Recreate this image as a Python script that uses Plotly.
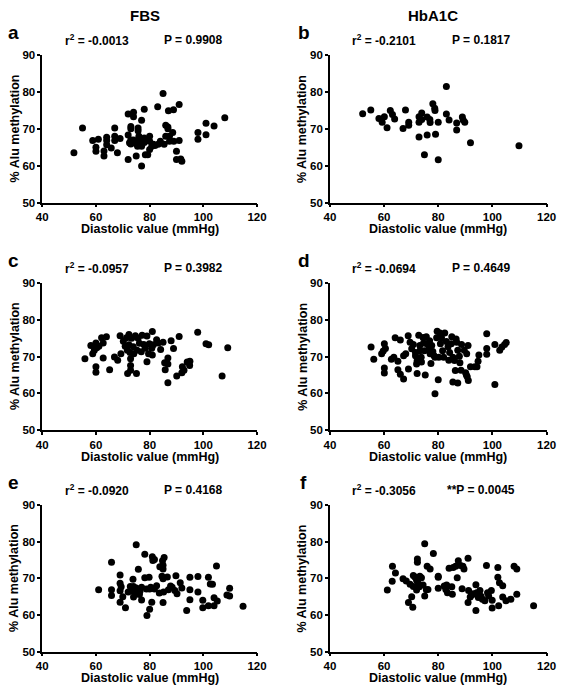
import plotly.graph_objects as go

W, H = 567, 693

# ---------------- data ----------------
col_titles = ["FBS", "HbA1C"]
panel_letters = ["a", "b", "c", "d", "e", "f"]
r2_labels = ["-0.0013", "-0.2101", "-0.0957", "-0.0694", "-0.0920", "-0.3056"]
p_labels = ["P = 0.9908", "P = 0.1817", "P = 0.3982", "P = 0.4649", "P = 0.4168", "**P = 0.0045"]
x_ticks = [40, 60, 80, 100, 120]
y_ticks = [50, 60, 70, 80, 90]

a_x = [51.8, 55, 58.8, 60.9, 60, 60, 63, 63, 64, 64, 64, 65.7, 67, 67, 67, 68, 69,
       72, 72, 72, 74, 74, 73, 73, 73, 73, 74, 75, 75.7, 75.7, 76, 76, 75.5,
       77, 77, 77, 77, 78, 78, 78.4, 79.3, 80, 80, 80, 80.8, 81.4,
       83, 83.2, 84, 85, 85.4, 86, 86, 86.8, 86.8, 87, 87.4, 87.4,
       88.6, 88.9, 89, 90, 90, 91, 91, 91.6, 92, 98, 98, 101, 101, 104, 108,
       72.5, 75, 78, 82]
a_y = [63.5, 70.2, 66.8, 67.2, 65, 63.9, 64, 62.6, 67.7, 66.8, 65.7, 64.8, 70.2, 68, 66.8, 63.5, 67.4,
       74, 68.3, 61.7, 74.5, 73.3, 70.6, 70, 67, 65.9, 67, 62.6, 70.2, 69.5, 68, 66.7, 65.3,
       72.3, 59.9, 66.7, 65.3, 75.3, 67.5, 63, 63, 64.4, 68, 66.6, 65.3, 65.8,
       76, 65.8, 66.6, 79.6, 65.8, 68, 71, 70.5, 70, 74.9, 68, 66.6,
       69, 75.2, 66.6, 63.9, 61.7, 66.8, 76.6, 61.8, 61.2, 69, 67.2, 71.5, 68.4, 70.8, 73,
       66.2, 66, 66.3, 65.5]

b_x = [52.1, 55.1, 58.1, 59.3, 60.1, 61.1, 62.3, 63.1, 63.9, 67, 67.9, 69.1, 69.1,
       72.9, 72.9, 72.9, 73.9, 73.9, 74.9, 75.9, 75.9, 76.9, 77, 78, 78.7, 78.8, 79,
       80, 80, 83, 83, 84, 86.8, 86.8, 88.9, 89.2, 89.8, 91.9, 109.8]
b_y = [74.1, 75.1, 72.8, 71.8, 73.3, 70.3, 75, 73.9, 72.7, 70.1, 75.1, 71.8, 71,
       67.8, 71.8, 73.3, 74.3, 72.5, 63, 73.2, 68.3, 72.5, 71.7, 76.8, 75.6, 75, 68.5,
       61.6, 71.8, 81.5, 74, 72.4, 71.6, 69.7, 73.2, 72.4, 71.8, 66.2, 65.4]

c_x = [55.9, 58.1, 58.8, 59.4, 60, 60.3, 61.1, 60, 60, 62.1, 62.7, 62.7, 63.9, 65.1, 66.9, 68.1,
       69, 69.3, 70.2, 70.9, 71.4, 71.7, 71.8, 72.3, 72.3, 72.7, 72.9, 72.9, 72.9, 73.3,
       73.9, 74.1, 74.7, 75.1, 75.3, 75.7, 76.2, 76.9, 77.2, 77.8, 78.4, 79, 79, 79.6, 79.9,
       80.8, 81, 81, 81.4, 82.6, 83.2, 84.1, 85, 85.6, 85.8, 86.8, 86.8, 86.8, 88, 88.9, 91,
       90.1, 92, 92.2, 92.8, 94, 94.9, 95, 97.9, 101, 102, 107, 109.1]
c_y = [69.4, 73, 70.8, 71.7, 73.7, 72.4, 72.8, 67.2, 65.7, 75.1, 73.7, 69.6, 75.4, 66.4, 69.9, 69,
       75.7, 70.8, 74.2, 72.8, 75.1, 71.7, 65.4, 76, 73.2, 71.1, 69.4, 67.6, 66.3, 75,
       72.7, 70.8, 75.7, 65.4, 71.7, 75, 73.6, 71.3, 75.8, 73.3, 72.3, 75.6, 68.6, 70.8, 73.5,
       72.3, 76.8, 70.4, 73.2, 74.6, 73.7, 71.9, 73.9, 68.3, 66.4, 69.6, 68, 62.9, 74.3, 72.2, 75.5,
       64.7, 65.6, 67.2, 66.3, 68.5, 67.6, 68.7, 76.6, 73.5, 73.2, 64.7, 72.4]

d_x = [55.2, 56.2, 59.1, 59.7, 60.1, 60.5, 60.1, 60.1, 62.7, 63.6, 64.1, 65.1, 65.1, 66, 66,
       67.2, 67.2, 68, 68.9, 69, 69.6, 70.2, 70.8, 71.6, 71.6, 72, 72.2, 72.2, 72.8, 73.2,
       73.2, 73.7, 73.8, 74.4, 74.6, 74.9, 75.2, 75.6, 75.8, 76.4, 76.8, 77, 77.3, 77.6, 78,
       78.4, 78.8, 78.8, 79.4, 79.6, 80, 80.2, 80.6, 80.8, 81.2, 81.6, 82, 82.4, 83, 83.6,
       83.9, 84.2, 84.8, 85, 85.4, 85.4, 86, 86.3, 86.6, 86.8, 87.2, 87.2, 87.8, 88, 88.4,
       88.6, 89.6, 90.1, 90.4, 90.5, 90.7, 91, 91.1, 91.9, 93.5, 94.3, 95, 94.7, 97.9, 97.9,
       97.9, 100.9, 100.9, 102.7, 103.5, 104.5, 105.1]
d_y = [72.6, 69.3, 70.8, 71.5, 73.5, 72.2, 66.9, 65.5, 69.3, 69.8, 75.1, 68.7, 66.4, 74.5, 65.2,
       63.9, 70.2, 70.8, 75.7, 66.6, 73.9, 72.1, 73.3, 71.1, 70.2, 68, 68.8, 65.4, 75.8, 73,
       71.6, 69.8, 68.5, 75.2, 73.7, 71.6, 65, 75.4, 73.5, 71.9, 74.3, 70.8, 68.1, 73, 71.4,
       70.3, 69.8, 59.9, 75.1, 76.9, 63.7, 69.8, 76.4, 73.5, 75.1, 71.6, 69.8, 76.4, 74.1, 72.7,
       69, 71.1, 73.5, 75.4, 69.8, 63.1, 68.9, 66.2, 74.8, 73.9, 71.7, 62.8, 70.1, 68.3, 66.3,
       73.3, 71.7, 65.6, 65, 70.8, 64.5, 73, 63.5, 67.2, 67.2, 67.2, 70.4, 68.7, 76.2, 72.2,
       70.6, 73.3, 62.4, 71.7, 72.6, 73.3, 73.8]

e_x = [61, 65.8, 65.8, 65.8, 69, 69, 69, 69, 69.4, 70, 71, 72, 72.8, 73.8, 74, 74, 74,
       75, 75, 75.2, 75.8, 76.2, 76.4, 77, 77, 78.2, 78.2, 78.8, 79, 79.8, 80, 80, 80.4,
       80.8, 81, 81.2, 81.8, 81.8, 82.6, 83.6, 83.8, 84.6, 84.8, 85, 85, 85, 85, 85.2, 85.4,
       86.6, 87, 87.8, 88.4, 89.4, 89.8, 90.2, 91.4, 92, 93.8, 95, 95, 95, 98, 98, 99.8, 99.8,
       101.9, 101.9, 102.6, 103.4, 104, 104, 104.9, 105.2, 108.8, 109.8, 109.8, 114.8]
e_y = [66.9, 66.9, 65.3, 74.4, 70.9, 68.7, 66.6, 63.5, 67.7, 65, 62, 66.3, 67.8, 69.8, 67.8, 66.5, 64.9,
       79.2, 67.4, 65.8, 72.5, 65.6, 66.5, 67.6, 64.1, 76.6, 70.2, 67.1, 59.9, 70.3, 61.6, 67.1, 67.6,
       63.5, 75.9, 74.9, 75.2, 67.1, 68, 66, 73.2, 70.6, 74.8, 73.6, 72.6, 69.9, 63.4, 66.3, 75.7,
       70.4, 66.9, 67.9, 67.6, 66.7, 70.7, 65.8, 68.8, 67.4, 61.2, 70.3, 66.9, 64.2, 70.5, 66.3, 64, 62,
       70.3, 62.5, 68.5, 68.4, 62.5, 64.7, 73.4, 63.8, 65.5, 67.3, 65.2, 62.4]

f_x = [61.2, 63, 63.1, 64.2, 67, 68.2, 69, 69.6, 70.2, 70.6, 70.8, 70.8, 71.4, 72, 72, 72.3, 72.3,
       72.6, 73, 73.2, 73.8, 74.4, 75, 75, 75.6, 75.9, 76.2, 77, 78.2, 80, 80, 80, 82.2, 82.8,
       83.1, 83.4, 84, 85, 85.2, 85.5, 86.4, 87, 87.4, 88.2, 88.8, 89.1, 89.5, 91, 91, 91.2,
       91.8, 92.4, 93, 93.9, 93.9, 94.2, 94.8, 95.4, 95.8, 96.3, 97.2, 97.8, 98.2, 98.6, 99.6,
       99.9, 99.9, 102, 102, 102.3, 102.6, 103.8, 103.8, 105, 106.8, 108, 109, 109, 115.2]
f_y = [66.8, 69.2, 73.3, 71.5, 69.9, 69.3, 63.4, 68.4, 65, 62.1, 70.8, 67.8, 70.4, 69.5, 66.8, 75.3, 74.4,
       68.6, 67.7, 70.6, 70.2, 68.2, 65.2, 79.5, 66.9, 73.3, 67, 72.6, 76.8, 70.6, 70.3, 67.3, 67.9, 67,
       68.2, 66.1, 72.8, 67.7, 65.7, 73, 73.3, 70.2, 74.8, 73.5, 67.2, 73.3, 72.6, 75.5, 63.4, 66.7,
       64.9, 65.5, 65.8, 68.3, 61.2, 66.1, 64.8, 66.7, 65.1, 64.3, 63.9, 73.5, 66.1, 65.2, 66.7,
       64, 61.9, 73, 70.3, 62.5, 68.8, 68, 64.9, 63.9, 64.3, 73.3, 72.6, 65.7, 62.5]

panels_x = [a_x, b_x, c_x, d_x, e_x, f_x]
panels_y = [a_y, b_y, c_y, d_y, e_y, f_y]

# ---------------- layout geometry (pixels) ----------------
FONT = "Liberation Sans, Arial, sans-serif"
col_px = [(37.3, 258.3), (333.3, 556.3)]
row_px = [(50.0, 200.0), (282.0, 431.5), (508.0, 657.0)]


def px(x, y):
    return x / W, 1 - y / H


fig = go.Figure()
layout = dict(
    width=W, height=H,
    margin=dict(l=0, r=0, t=0, b=0),
    paper_bgcolor="white", plot_bgcolor="white",
    showlegend=False,
    font=dict(family=FONT, color="black"),
)
annotations = []

for i in range(6):
    r, c = divmod(i, 2)
    n = i + 1
    xa = "xaxis" if n == 1 else f"xaxis{n}"
    ya = "yaxis" if n == 1 else f"yaxis{n}"
    xref = "x" if n == 1 else f"x{n}"
    yref = "y" if n == 1 else f"y{n}"
    x0, x1 = col_px[c]
    y0, y1 = row_px[r]
    common = dict(showline=True, linecolor="black", linewidth=1.5, ticks="outside",
                  ticklen=3, tickwidth=1.5, tickcolor="black", showgrid=False,
                  zeroline=False, ticklabeloverflow="allow",
                  tickfont=dict(family=FONT, size=11.5, color="black", weight="bold"))
    layout[xa] = dict(domain=[x0 / W, x1 / W], anchor=yref, range=[40, 120],
                      tickvals=x_ticks, **common)
    layout[ya] = dict(domain=[1 - y1 / H, 1 - y0 / H], anchor=xref, range=[50, 90],
                      tickvals=y_ticks, **common)
    fig.add_trace(go.Scatter(x=panels_x[i], y=panels_y[i], mode="markers",
                             marker=dict(size=7, color="black"),
                             xaxis=xref, yaxis=yref, cliponaxis=False))

    # axis titles
    ax, ay = px((x0 + x1) / 2, y1 + 27)
    annotations.append(dict(text="<b>Diastolic value (mmHg)</b>", x=ax, y=ay, xref="paper", yref="paper",
                            showarrow=False, font=dict(size=12.5), xanchor="center", yanchor="middle"))
    ax, ay = px(x0 - 28.5, (y0 + y1) / 2)
    annotations.append(dict(text="<b>% Alu methylation</b>", x=ax, y=ay, xref="paper", yref="paper",
                            showarrow=False, textangle=-90, font=dict(size=12.5),
                            xanchor="center", yanchor="middle"))
    # panel letter
    ax, ay = px(x0 - 30 + (3 if c == 1 else 0), y0 - 23)
    annotations.append(dict(text=f"<b>{panel_letters[i]}</b>", x=ax, y=ay, xref="paper", yref="paper",
                            showarrow=False, font=dict(size=19), xanchor="center", yanchor="middle"))
    # stats
    ax, ay = px(x0 + 56, y0 - 15)
    annotations.append(dict(text=f"<b>r<sup>2</sup> = {r2_labels[i]}</b>", x=ax, y=ay, xref="paper",
                            yref="paper", showarrow=False, font=dict(size=12),
                            xanchor="center", yanchor="middle"))
    ax, ay = px(x0 + 155, y0 - 15)
    annotations.append(dict(text=f"<b>{p_labels[i]}</b>", x=ax, y=ay, xref="paper",
                            yref="paper", showarrow=False, font=dict(size=12),
                            xanchor="center", yanchor="middle"))

for c, t in enumerate(col_titles):
    ax, ay = px((col_px[c][0] + col_px[c][1]) / 2 - 5, 10)
    annotations.append(dict(text=f"<b>{t}</b>", x=ax, y=ay, xref="paper", yref="paper",
                            showarrow=False, font=dict(size=15), xanchor="center", yanchor="middle"))

layout["annotations"] = annotations
fig.update_layout(**layout)
fig.write_html("out.html", config={"displayModeBar": False},
               post_script="document.body.style.margin='0';document.body.style.overflow='hidden';")
